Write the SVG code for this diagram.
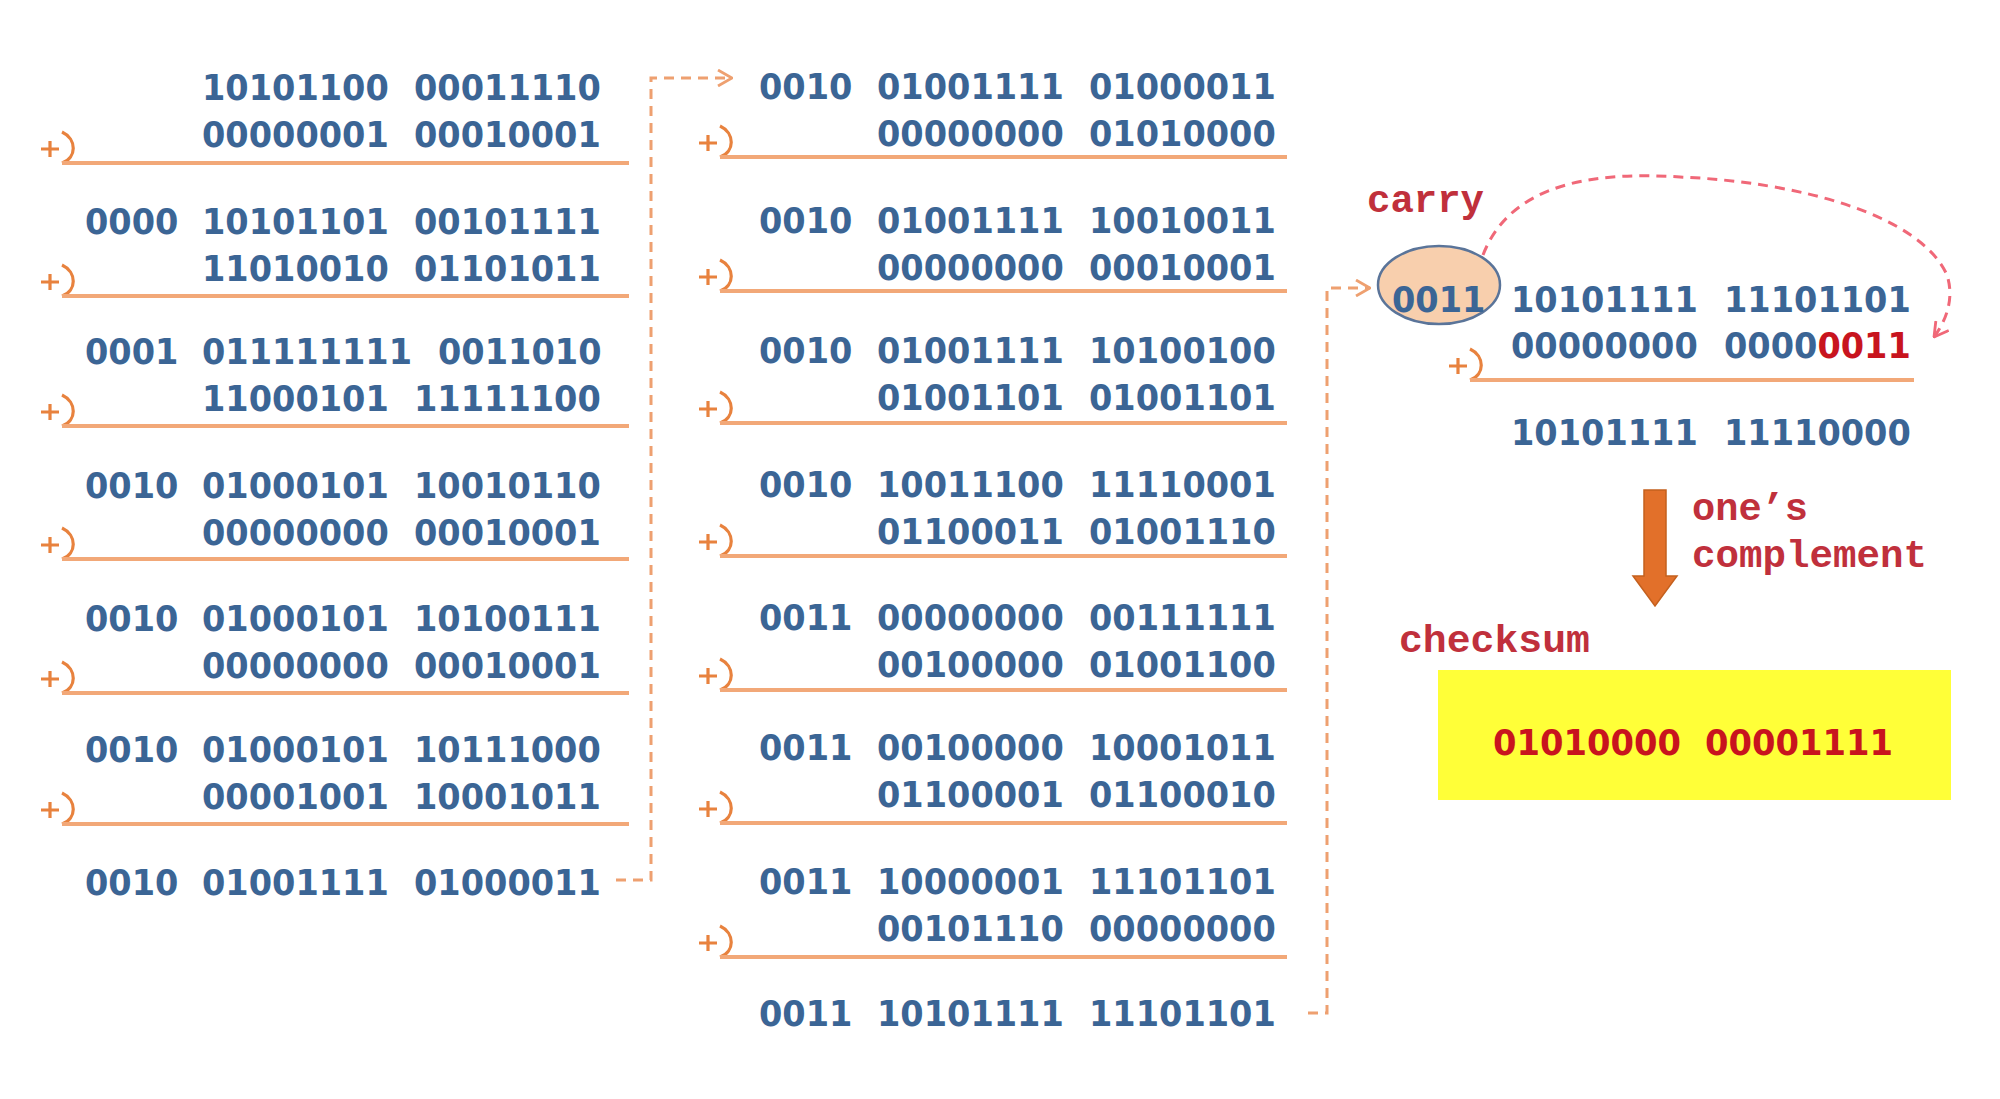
<svg xmlns="http://www.w3.org/2000/svg" width="2000" height="1099" viewBox="0 0 2000 1099">
<style>
.b{font-family:"DejaVu Sans",Verdana,sans-serif;font-weight:bold;font-size:35px;fill:#3b6595}
.r{fill:#c8141e}
.lbl{font-family:"Liberation Mono","Courier New",monospace;font-weight:bold;font-size:38px;fill:#c0303c}
.sum{stroke:#f2a878;stroke-width:3.8;fill:none}
.brk{stroke:#e8823e;stroke-width:3.2;fill:none}
.dash{stroke:#eea070;stroke-width:3;fill:none;stroke-dasharray:10 7}
.rdash{stroke:#f06878;stroke-width:3;fill:none;stroke-dasharray:10 7}
</style>
<defs>
<g id="adder">
<path class="brk" d="M0,-31 C15,-24 15,-5 0,0"/>
<path class="brk" d="M-21,-14 H-3 M-12,-22 V-6"/>
</g>
<marker id="chevO" markerUnits="userSpaceOnUse" viewBox="0 0 16 18" markerWidth="16" markerHeight="18" refX="15" refY="9" orient="auto">
<path d="M1,1 L15,9 L1,17" fill="none" stroke="#eea070" stroke-width="2.8"/>
</marker>
<marker id="chevR" markerUnits="userSpaceOnUse" viewBox="0 0 16 18" markerWidth="16" markerHeight="18" refX="15" refY="9" orient="auto">
<path d="M1,1 L15,9 L1,17" fill="none" stroke="#f06878" stroke-width="2.8"/>
</marker>
</defs>
<rect width="2000" height="1099" fill="#ffffff"/>

<g id="left-column">
<g id="L1">
<text class="b" x="202" y="100" textLength="186.8" lengthAdjust="spacingAndGlyphs">10101100</text>
<text class="b" x="414" y="100" textLength="186.8" lengthAdjust="spacingAndGlyphs">00011110</text>
<text class="b" x="202" y="147" textLength="186.8" lengthAdjust="spacingAndGlyphs">00000001</text>
<text class="b" x="414" y="147" textLength="186.8" lengthAdjust="spacingAndGlyphs">00010001</text>
<use href="#adder" x="62" y="163"/><line class="sum" x1="62" y1="163" x2="629" y2="163"/>
</g>
<g id="L2">
<text class="b" x="85" y="234" textLength="93.4" lengthAdjust="spacingAndGlyphs">0000</text>
<text class="b" x="202" y="234" textLength="186.8" lengthAdjust="spacingAndGlyphs">10101101</text>
<text class="b" x="414" y="234" textLength="186.8" lengthAdjust="spacingAndGlyphs">00101111</text>
<text class="b" x="202" y="281" textLength="186.8" lengthAdjust="spacingAndGlyphs">11010010</text>
<text class="b" x="414" y="281" textLength="186.8" lengthAdjust="spacingAndGlyphs">01101011</text>
<use href="#adder" x="62" y="296"/><line class="sum" x1="62" y1="296" x2="629" y2="296"/>
</g>
<g id="L3">
<text class="b" x="85" y="364" textLength="93.4" lengthAdjust="spacingAndGlyphs">0001</text>
<text class="b" x="202" y="364" textLength="210" lengthAdjust="spacingAndGlyphs">011111111</text>
<text class="b" x="438" y="364" textLength="163.5" lengthAdjust="spacingAndGlyphs">0011010</text>
<text class="b" x="202" y="411" textLength="186.8" lengthAdjust="spacingAndGlyphs">11000101</text>
<text class="b" x="414" y="411" textLength="186.8" lengthAdjust="spacingAndGlyphs">11111100</text>
<use href="#adder" x="62" y="426"/><line class="sum" x1="62" y1="426" x2="629" y2="426"/>
</g>
<g id="L4">
<text class="b" x="85" y="498" textLength="93.4" lengthAdjust="spacingAndGlyphs">0010</text>
<text class="b" x="202" y="498" textLength="186.8" lengthAdjust="spacingAndGlyphs">01000101</text>
<text class="b" x="414" y="498" textLength="186.8" lengthAdjust="spacingAndGlyphs">10010110</text>
<text class="b" x="202" y="545" textLength="186.8" lengthAdjust="spacingAndGlyphs">00000000</text>
<text class="b" x="414" y="545" textLength="186.8" lengthAdjust="spacingAndGlyphs">00010001</text>
<use href="#adder" x="62" y="559"/><line class="sum" x1="62" y1="559" x2="629" y2="559"/>
</g>
<g id="L5">
<text class="b" x="85" y="631" textLength="93.4" lengthAdjust="spacingAndGlyphs">0010</text>
<text class="b" x="202" y="631" textLength="186.8" lengthAdjust="spacingAndGlyphs">01000101</text>
<text class="b" x="414" y="631" textLength="186.8" lengthAdjust="spacingAndGlyphs">10100111</text>
<text class="b" x="202" y="678" textLength="186.8" lengthAdjust="spacingAndGlyphs">00000000</text>
<text class="b" x="414" y="678" textLength="186.8" lengthAdjust="spacingAndGlyphs">00010001</text>
<use href="#adder" x="62" y="693"/><line class="sum" x1="62" y1="693" x2="629" y2="693"/>
</g>
<g id="L6">
<text class="b" x="85" y="762" textLength="93.4" lengthAdjust="spacingAndGlyphs">0010</text>
<text class="b" x="202" y="762" textLength="186.8" lengthAdjust="spacingAndGlyphs">01000101</text>
<text class="b" x="414" y="762" textLength="186.8" lengthAdjust="spacingAndGlyphs">10111000</text>
<text class="b" x="202" y="809" textLength="186.8" lengthAdjust="spacingAndGlyphs">00001001</text>
<text class="b" x="414" y="809" textLength="186.8" lengthAdjust="spacingAndGlyphs">10001011</text>
<use href="#adder" x="62" y="824"/><line class="sum" x1="62" y1="824" x2="629" y2="824"/>
</g>
<g id="L7">
<text class="b" x="85" y="895" textLength="93.4" lengthAdjust="spacingAndGlyphs">0010</text>
<text class="b" x="202" y="895" textLength="186.8" lengthAdjust="spacingAndGlyphs">01001111</text>
<text class="b" x="414" y="895" textLength="186.8" lengthAdjust="spacingAndGlyphs">01000011</text>
</g>
</g>

<g id="middle-column">
<g id="M1">
<text class="b" x="759" y="99" textLength="93.4" lengthAdjust="spacingAndGlyphs">0010</text>
<text class="b" x="877" y="99" textLength="186.8" lengthAdjust="spacingAndGlyphs">01001111</text>
<text class="b" x="1089" y="99" textLength="186.8" lengthAdjust="spacingAndGlyphs">01000011</text>
<text class="b" x="877" y="146" textLength="186.8" lengthAdjust="spacingAndGlyphs">00000000</text>
<text class="b" x="1089" y="146" textLength="186.8" lengthAdjust="spacingAndGlyphs">01010000</text>
<use href="#adder" x="720" y="157"/><line class="sum" x1="720" y1="157" x2="1287" y2="157"/>
</g>
<g id="M2">
<text class="b" x="759" y="233" textLength="93.4" lengthAdjust="spacingAndGlyphs">0010</text>
<text class="b" x="877" y="233" textLength="186.8" lengthAdjust="spacingAndGlyphs">01001111</text>
<text class="b" x="1089" y="233" textLength="186.8" lengthAdjust="spacingAndGlyphs">10010011</text>
<text class="b" x="877" y="280" textLength="186.8" lengthAdjust="spacingAndGlyphs">00000000</text>
<text class="b" x="1089" y="280" textLength="186.8" lengthAdjust="spacingAndGlyphs">00010001</text>
<use href="#adder" x="720" y="291"/><line class="sum" x1="720" y1="291" x2="1287" y2="291"/>
</g>
<g id="M3">
<text class="b" x="759" y="363" textLength="93.4" lengthAdjust="spacingAndGlyphs">0010</text>
<text class="b" x="877" y="363" textLength="186.8" lengthAdjust="spacingAndGlyphs">01001111</text>
<text class="b" x="1089" y="363" textLength="186.8" lengthAdjust="spacingAndGlyphs">10100100</text>
<text class="b" x="877" y="410" textLength="186.8" lengthAdjust="spacingAndGlyphs">01001101</text>
<text class="b" x="1089" y="410" textLength="186.8" lengthAdjust="spacingAndGlyphs">01001101</text>
<use href="#adder" x="720" y="423"/><line class="sum" x1="720" y1="423" x2="1287" y2="423"/>
</g>
<g id="M4">
<text class="b" x="759" y="497" textLength="93.4" lengthAdjust="spacingAndGlyphs">0010</text>
<text class="b" x="877" y="497" textLength="186.8" lengthAdjust="spacingAndGlyphs">10011100</text>
<text class="b" x="1089" y="497" textLength="186.8" lengthAdjust="spacingAndGlyphs">11110001</text>
<text class="b" x="877" y="544" textLength="186.8" lengthAdjust="spacingAndGlyphs">01100011</text>
<text class="b" x="1089" y="544" textLength="186.8" lengthAdjust="spacingAndGlyphs">01001110</text>
<use href="#adder" x="720" y="556"/><line class="sum" x1="720" y1="556" x2="1287" y2="556"/>
</g>
<g id="M5">
<text class="b" x="759" y="630" textLength="93.4" lengthAdjust="spacingAndGlyphs">0011</text>
<text class="b" x="877" y="630" textLength="186.8" lengthAdjust="spacingAndGlyphs">00000000</text>
<text class="b" x="1089" y="630" textLength="186.8" lengthAdjust="spacingAndGlyphs">00111111</text>
<text class="b" x="877" y="677" textLength="186.8" lengthAdjust="spacingAndGlyphs">00100000</text>
<text class="b" x="1089" y="677" textLength="186.8" lengthAdjust="spacingAndGlyphs">01001100</text>
<use href="#adder" x="720" y="690"/><line class="sum" x1="720" y1="690" x2="1287" y2="690"/>
</g>
<g id="M6">
<text class="b" x="759" y="760" textLength="93.4" lengthAdjust="spacingAndGlyphs">0011</text>
<text class="b" x="877" y="760" textLength="186.8" lengthAdjust="spacingAndGlyphs">00100000</text>
<text class="b" x="1089" y="760" textLength="186.8" lengthAdjust="spacingAndGlyphs">10001011</text>
<text class="b" x="877" y="807" textLength="186.8" lengthAdjust="spacingAndGlyphs">01100001</text>
<text class="b" x="1089" y="807" textLength="186.8" lengthAdjust="spacingAndGlyphs">01100010</text>
<use href="#adder" x="720" y="823"/><line class="sum" x1="720" y1="823" x2="1287" y2="823"/>
</g>
<g id="M7">
<text class="b" x="759" y="894" textLength="93.4" lengthAdjust="spacingAndGlyphs">0011</text>
<text class="b" x="877" y="894" textLength="186.8" lengthAdjust="spacingAndGlyphs">10000001</text>
<text class="b" x="1089" y="894" textLength="186.8" lengthAdjust="spacingAndGlyphs">11101101</text>
<text class="b" x="877" y="941" textLength="186.8" lengthAdjust="spacingAndGlyphs">00101110</text>
<text class="b" x="1089" y="941" textLength="186.8" lengthAdjust="spacingAndGlyphs">00000000</text>
<use href="#adder" x="720" y="957"/><line class="sum" x1="720" y1="957" x2="1287" y2="957"/>
</g>
<g id="M8">
<text class="b" x="759" y="1026" textLength="93.4" lengthAdjust="spacingAndGlyphs">0011</text>
<text class="b" x="877" y="1026" textLength="186.8" lengthAdjust="spacingAndGlyphs">10101111</text>
<text class="b" x="1089" y="1026" textLength="186.8" lengthAdjust="spacingAndGlyphs">11101101</text>
</g>
</g>

<g id="wraparound">
<text class="lbl" x="1367" y="212" textLength="117" lengthAdjust="spacingAndGlyphs">carry</text>
<ellipse id="carry-ellipse" cx="1439" cy="285" rx="61" ry="39" fill="#f8cfad" stroke="#5a7499" stroke-width="2.5"/>
<text class="b" x="1392" y="312" textLength="93.4" lengthAdjust="spacingAndGlyphs">0011</text>
<text class="b" x="1511" y="312" textLength="186.8" lengthAdjust="spacingAndGlyphs">10101111</text>
<text class="b" x="1724" y="312" textLength="186.8" lengthAdjust="spacingAndGlyphs">11101101</text>
<text class="b" x="1511" y="358" textLength="186.8" lengthAdjust="spacingAndGlyphs">00000000</text>
<text class="b" x="1724" y="358" textLength="186.8" lengthAdjust="spacingAndGlyphs">0000<tspan class="r">0011</tspan></text>
<use href="#adder" x="1470" y="380"/><line class="sum" x1="1470" y1="380" x2="1914" y2="380"/>
<text class="b" x="1511" y="445" textLength="186.8" lengthAdjust="spacingAndGlyphs">10101111</text>
<text class="b" x="1724" y="445" textLength="186.8" lengthAdjust="spacingAndGlyphs">11110000</text>
</g>

<g id="complement">
<path id="down-arrow" d="M1644,490 H1666 V576 H1677 L1655,606 L1633,576 H1644 Z" fill="#e2702a" stroke="#c4601e" stroke-width="1.5"/>
<text class="lbl" x="1692" y="520" textLength="116" lengthAdjust="spacingAndGlyphs">one’s</text>
<text class="lbl" x="1692" y="567" textLength="235" lengthAdjust="spacingAndGlyphs">complement</text>
</g>

<g id="checksum">
<text class="lbl" x="1399" y="652" textLength="191" lengthAdjust="spacingAndGlyphs">checksum</text>
<rect x="1438" y="670" width="513" height="130" fill="#ffff38"/>
<text class="b r" x="1493" y="755" textLength="188" lengthAdjust="spacingAndGlyphs">01010000</text>
<text class="b r" x="1705" y="755" textLength="188" lengthAdjust="spacingAndGlyphs">00001111</text>
</g>

<g id="connectors">
<path class="dash" d="M616,880 H651 V78 H732" marker-end="url(#chevO)"/>
<path class="dash" d="M1308,1013 H1327 V288 H1370" marker-end="url(#chevO)"/>
<path class="rdash" d="M1483,255 C1512,180 1600,172 1680,177 C1800,182 1920,215 1947,275 C1955,300 1945,322 1934,337" marker-end="url(#chevR)"/>
</g>
</svg>
